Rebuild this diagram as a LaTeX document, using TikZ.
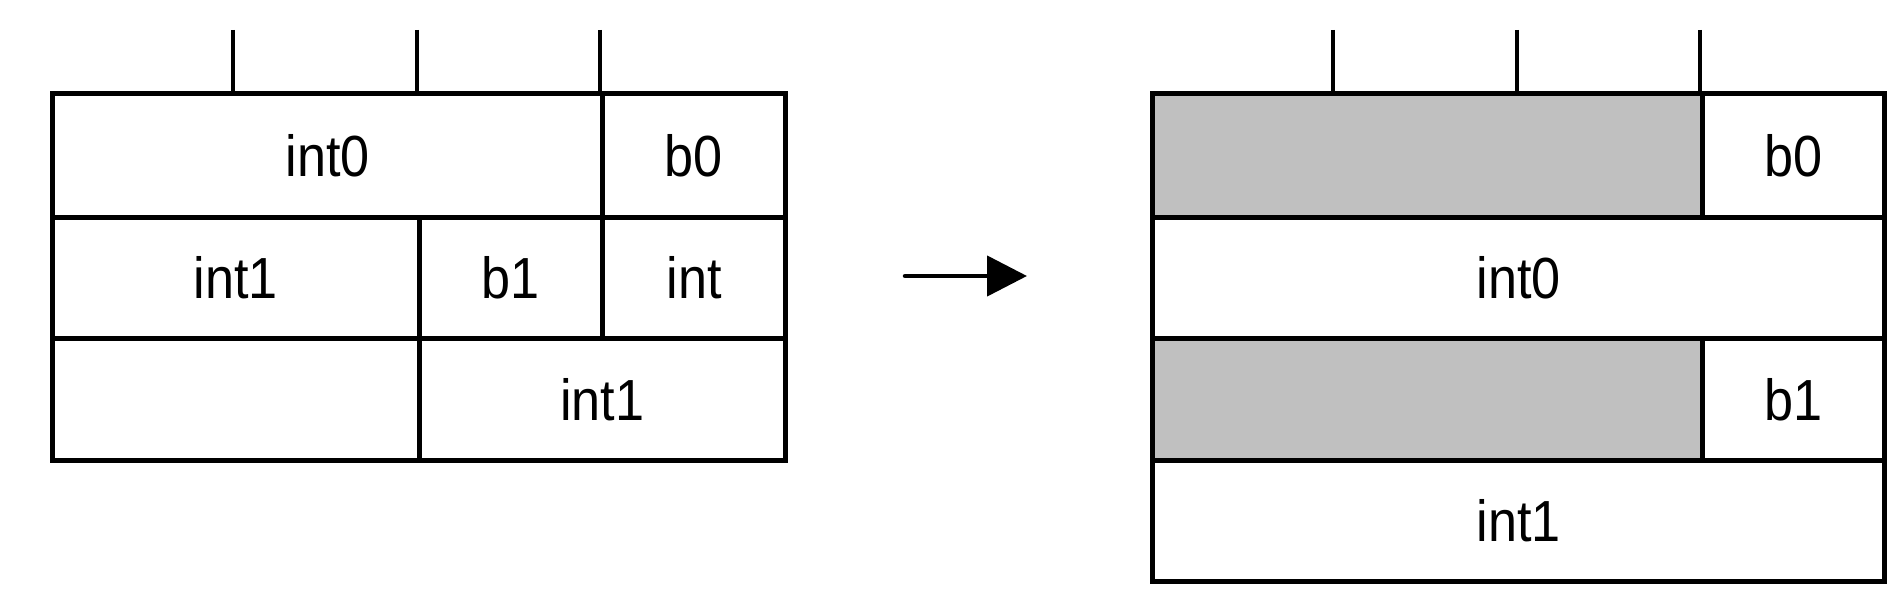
\documentclass[tikz,border=0pt]{standalone}
\usepackage{fontspec}
\setmainfont[FakeStretch=0.9]{Liberation Sans}
\usetikzlibrary{arrows.meta}
\definecolor{shade}{HTML}{C0C0C0}
\tikzset{
  cell/.style={draw=black, line width=5pt, inner sep=0pt, anchor=north west,
    font=\fontsize{58}{64}\selectfont},
  grey/.style={cell, fill=shade},
  tick/.style={draw=black, line width=4pt},
  conn/.style={draw=black, line width=4.5pt, line cap=round, -{Triangle[length=40pt,width=40pt]}}
}
\begin{document}
\begin{tikzpicture}[x=1pt,y=-1pt]
\useasboundingbox (0,0) rectangle (1904,594);
% left table
\node[cell, minimum width=550pt, minimum height=124pt] (l0) at (50,91) {int0};
\node[cell, minimum width=183pt, minimum height=124pt] (lb0) at (600,91) {b0};
\node[cell, minimum width=366.5pt, minimum height=121pt] (l1) at (50,215) {int1};
\node[cell, minimum width=183.5pt, minimum height=121pt] (lb1) at (416.5,215) {b1};
\node[cell, minimum width=183pt, minimum height=121pt] (li) at (600,215) {int};
\node[cell, minimum width=366.5pt, minimum height=122pt] (le) at (50,336) {};
\node[cell, minimum width=366.5pt, minimum height=122pt] (l2) at (416.5,336) {int1};
% left ticks
\coordinate (lt1) at (233,30);
\coordinate (lt2) at (416.5,30);
\coordinate (lt3) at (600,30);
\draw[tick] (lt1) -- (lt1 |- l0.north);
\draw[tick] (lt2) -- (lt2 |- l0.north);
\draw[tick] (lt3) -- (lt3 |- l0.north);
% arrow
\coordinate (as) at (905,276);
\coordinate (ae) at (1027,276);
\draw[conn] (as) -- (ae);
% right table
\node[grey, minimum width=550pt, minimum height=124pt] (g0) at (1150,91) {};
\node[cell, minimum width=182pt, minimum height=124pt] (rb0) at (1700,91) {b0};
\node[cell, minimum width=732pt, minimum height=121pt] (r0) at (1150,215) {int0};
\node[grey, minimum width=550pt, minimum height=122pt] (g1) at (1150,336) {};
\node[cell, minimum width=182pt, minimum height=122pt] (rb1) at (1700,336) {b1};
\node[cell, minimum width=732pt, minimum height=121pt] (r1) at (1150,458) {int1};
% right ticks
\coordinate (rt1) at (1333,30);
\coordinate (rt2) at (1517,30);
\coordinate (rt3) at (1700,30);
\draw[tick] (rt1) -- (rt1 |- g0.north);
\draw[tick] (rt2) -- (rt2 |- g0.north);
\draw[tick] (rt3) -- (rt3 |- g0.north);
\end{tikzpicture}
\end{document}
